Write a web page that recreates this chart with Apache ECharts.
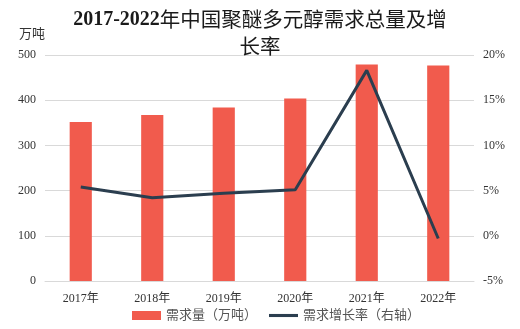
<!DOCTYPE html>
<html>
<head>
<meta charset="utf-8">
<script src="https://cdn.jsdelivr.net/npm/echarts@6/dist/echarts.min.js"></script>
<style>
  html, body { margin: 0; padding: 0; background: #ffffff; }
  #chart { width: 520px; height: 329px; }
</style>
</head>
<body>
<div id="chart"></div>
<script>
// Polyether polyol demand in China, 2017-2022
const years = ['2017年', '2018年', '2019年', '2020年', '2021年', '2022年'];
const demand = [352, 367, 384, 404, 479, 477];           // 万吨
const growthRate = [5.4, 4.2, 4.7, 5.1, 18.3, -0.3];     // %

const serif = '"Liberation Serif", "Times New Roman", "Noto Sans CJK SC", serif';
const cjk = '"Noto Sans CJK SC", sans-serif';
const chart = echarts.init(document.getElementById('chart'));

chart.setOption({
  backgroundColor: '#ffffff',
  animation: false,
  title: {
    text: '{d|2017-2022}{c|年中国聚醚多元醇需求总量及增}\n{c|长率}',
    left: 'center',
    top: 1,
    textStyle: {
      lineHeight: 27,
      rich: {
        d: { fontFamily: serif, fontWeight: 'bold', fontSize: 20, color: '#1a1a1a', lineHeight: 27 },
        c: { fontFamily: cjk, fontWeight: 'normal', fontSize: 20.5, color: '#1a1a1a', lineHeight: 27 }
      }
    }
  },
  legend: {
    bottom: 2,
    left: 127,
    itemGap: 12,
    itemWidth: 29,
    itemHeight: 9,
    textStyle: { fontFamily: serif, fontSize: 13, color: '#555' },
    data: [
      { name: '需求量（万吨）', icon: 'rect' },
      { name: '需求增长率（右轴）', icon: 'path://M0,0 L30,0 L30,3.2 L0,3.2 Z' }
    ]
  },
  grid: { left: 45, right: 46, top: 55, bottom: 48 },
  xAxis: {
    type: 'category',
    data: years,
    axisTick: { show: false },
    axisLine: { lineStyle: { color: '#d9d9d9' } },
    axisLabel: { fontFamily: serif, fontSize: 12, color: '#333', margin: 12 }
  },
  yAxis: [
    {
      type: 'value',
      min: 0,
      max: 500,
      interval: 100,
      name: '万吨',
      nameGap: 14,
      nameTextStyle: { fontFamily: serif, fontSize: 13, color: '#333', align: 'right' },
      axisLine: { show: false },
      axisTick: { show: false },
      axisLabel: { fontFamily: serif, fontSize: 12, color: '#333', margin: 9 },
      splitLine: { lineStyle: { color: '#d9d9d9' } }
    },
    {
      type: 'value',
      min: -5,
      max: 20,
      interval: 5,
      axisLine: { show: false },
      axisTick: { show: false },
      axisLabel: { fontFamily: serif, fontSize: 12, color: '#333', margin: 9, formatter: '{value}%' },
      splitLine: { show: false }
    }
  ],
  series: [
    {
      name: '需求量（万吨）',
      type: 'bar',
      data: demand,
      barWidth: '31%',
      itemStyle: { color: '#F15B4D' }
    },
    {
      name: '需求增长率（右轴）',
      type: 'line',
      yAxisIndex: 1,
      data: growthRate,
      symbol: 'none',
      lineStyle: { color: '#2B3E4F', width: 3 },
      itemStyle: { color: '#2B3E4F' }
    }
  ]
});
</script>
</body>
</html>
